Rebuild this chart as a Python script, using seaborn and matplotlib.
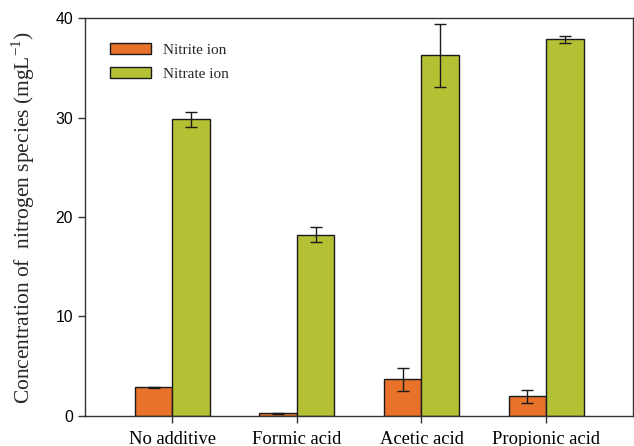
import numpy as np
import pandas as pd
import matplotlib
matplotlib.use('Agg')
import matplotlib.pyplot as plt
import seaborn as sns

# Values
categories = ['No additive', 'Formic acid', 'Acetic acid', 'Propionic acid']
nitrite = [2.9, 0.25, 3.7, 2.0]
nitrite_err = [0.05, 0.1, 1.15, 0.65]
nitrate = [29.8, 18.2, 36.25, 37.85]
nitrate_err = [0.8, 0.75, 3.15, 0.35]
series = ['Nitrite ion', 'Nitrate ion']
colors = ['#E9722A', '#B4C134']

df = pd.DataFrame({
    'category': categories * 2,
    'species': [series[0]] * 4 + [series[1]] * 4,
    'value': nitrite + nitrate,
})

sns.set_style('white')
plt.rcParams['font.family'] = ['Liberation Serif', 'DejaVu Serif']

fig = plt.figure(figsize=(6.34, 4.46), dpi=100)
ax = fig.add_axes([0.134, 0.0673, 0.865, 0.8923])

sns.barplot(data=df, x='category', y='value', hue='species', order=categories,
            hue_order=series, palette=colors, width=0.6, edgecolor='#1a1a1a',
            linewidth=1.0, saturation=1, errorbar=None, ax=ax)

# error bars on each bar container
for cont, errs in zip(ax.containers, [nitrite_err, nitrate_err]):
    xs = [p.get_x() + p.get_width() / 2 for p in cont]
    ys = [p.get_height() for p in cont]
    ax.errorbar(xs, ys, yerr=errs, fmt='none', ecolor='#1a1a1a',
                elinewidth=1.0, capsize=4.3, capthick=1.0)

ax.set_xlim(-0.7, 3.7)
ax.set_ylim(0, 40)
ax.set_yticks([0, 10, 20, 30, 40])
ax.set_xlabel('')
ax.set_ylabel('Concentration of  nitrogen species (mgL$^{\\mathregular{-1}}$)',
              fontsize=15.5, labelpad=13)

for lab in ax.get_yticklabels():
    lab.set_family('Liberation Sans')
    lab.set_fontsize(11.3)
for lab in ax.get_xticklabels():
    lab.set_fontsize(13.3)

ax.tick_params(axis='both', direction='out', length=5, width=1, colors='#333333',
               labelcolor='black', left=True, bottom=True)
ax.tick_params(axis='x', pad=6)
for sp in ax.spines.values():
    sp.set_color('#333333')
    sp.set_linewidth(1.0)

leg = ax.legend(loc='upper left', bbox_to_anchor=(0.02, 0.973), frameon=False,
                fontsize=11, handlelength=2.7, handleheight=0.8,
                labelspacing=0.65, handletextpad=0.8)
for h in leg.legend_handles:
    h.set_edgecolor('#1a1a1a')
    h.set_linewidth(1.0)

fig.savefig('out.png', dpi=100)
